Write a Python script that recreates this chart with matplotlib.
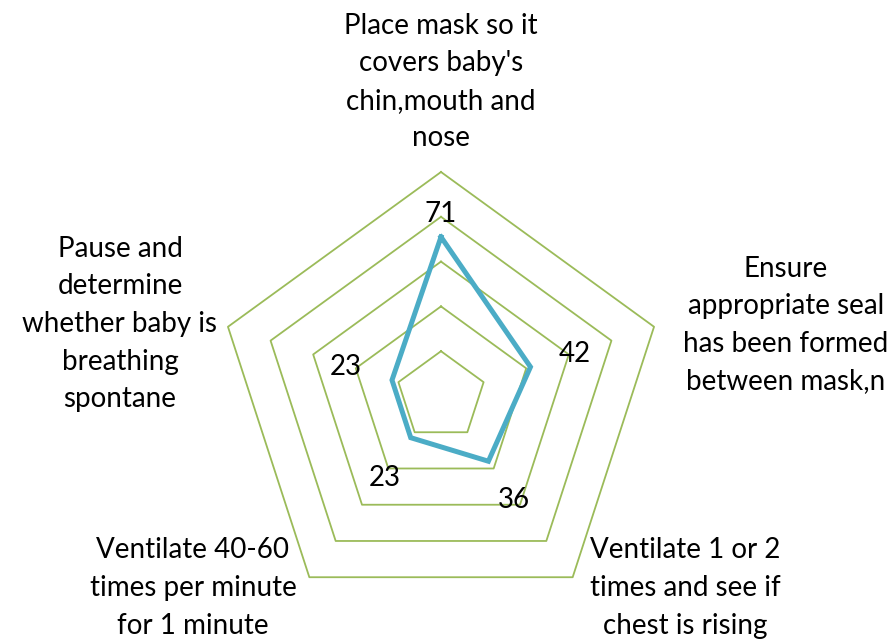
import numpy as np
import matplotlib.pyplot as plt

plt.rcParams['font.family'] = ['Lato', 'DejaVu Sans']

categories = ["Place mask so it\ncovers baby's\nchin,mouth and\nnose",
              "Ensure\nappropriate seal\nhas been formed\nbetween mask,n",
              "Ventilate 1 or 2\ntimes and see if\nchest is rising",
              "Ventilate 40-60\ntimes per minute\nfor 1 minute",
              "Pause and\ndetermine\nwhether baby is\nbreathing\nspontane"]
values = [71, 42, 36, 23, 23]
rings = [20, 40, 60, 80, 100]

n = len(values)
ang = np.pi / 2 - np.arange(n) * 2 * np.pi / n
ang_c = np.append(ang, ang[0])

fig = plt.figure(figsize=(8.91, 6.43), dpi=100)
cx, cy, R = 441 / 891, (643 - 396) / 643, 224
ax = fig.add_axes([cx - R / 891, cy - R / 643, 2 * R / 891, 2 * R / 643], polar=True)
ax.set_ylim(0, 100)
ax.set_thetalim(0, 2 * np.pi)
ax.grid(False)
ax.spines['polar'].set_visible(False)
ax.set_xticks([])
ax.set_yticks([])
ax.patch.set_alpha(0)

for r in rings:
    ax.plot(ang_c, [r] * (n + 1), color='#9BBB59', lw=1.3, clip_on=False)

v = np.append(values, values[0])
ax.plot(ang_c, v, color='#4BACC6', lw=3.6, solid_joinstyle='miter', clip_on=False)

# data labels, offsets in pixels
lab_off = [(0, 23), (44, 13), (26, -39), (-26, -40), (-46, 13)]
for a, val, (dx, dy) in zip(ang, values, lab_off):
    ax.annotate(str(val), (a, val), xytext=(dx, dy), textcoords='offset pixels',
                ha='center', va='center', fontsize=20)

# category labels (pixel positions converted to figure coords)
cat_pos = [(441, 82), (786, 325), (685, 588), (193, 588), (120, 324)]
for txt, (px, py) in zip(categories, cat_pos):
    fig.text(px / 891, 1 - py / 643, txt, ha='center', va='center', fontsize=20,
             linespacing=1.55)

fig.savefig('out.png', dpi=100)
